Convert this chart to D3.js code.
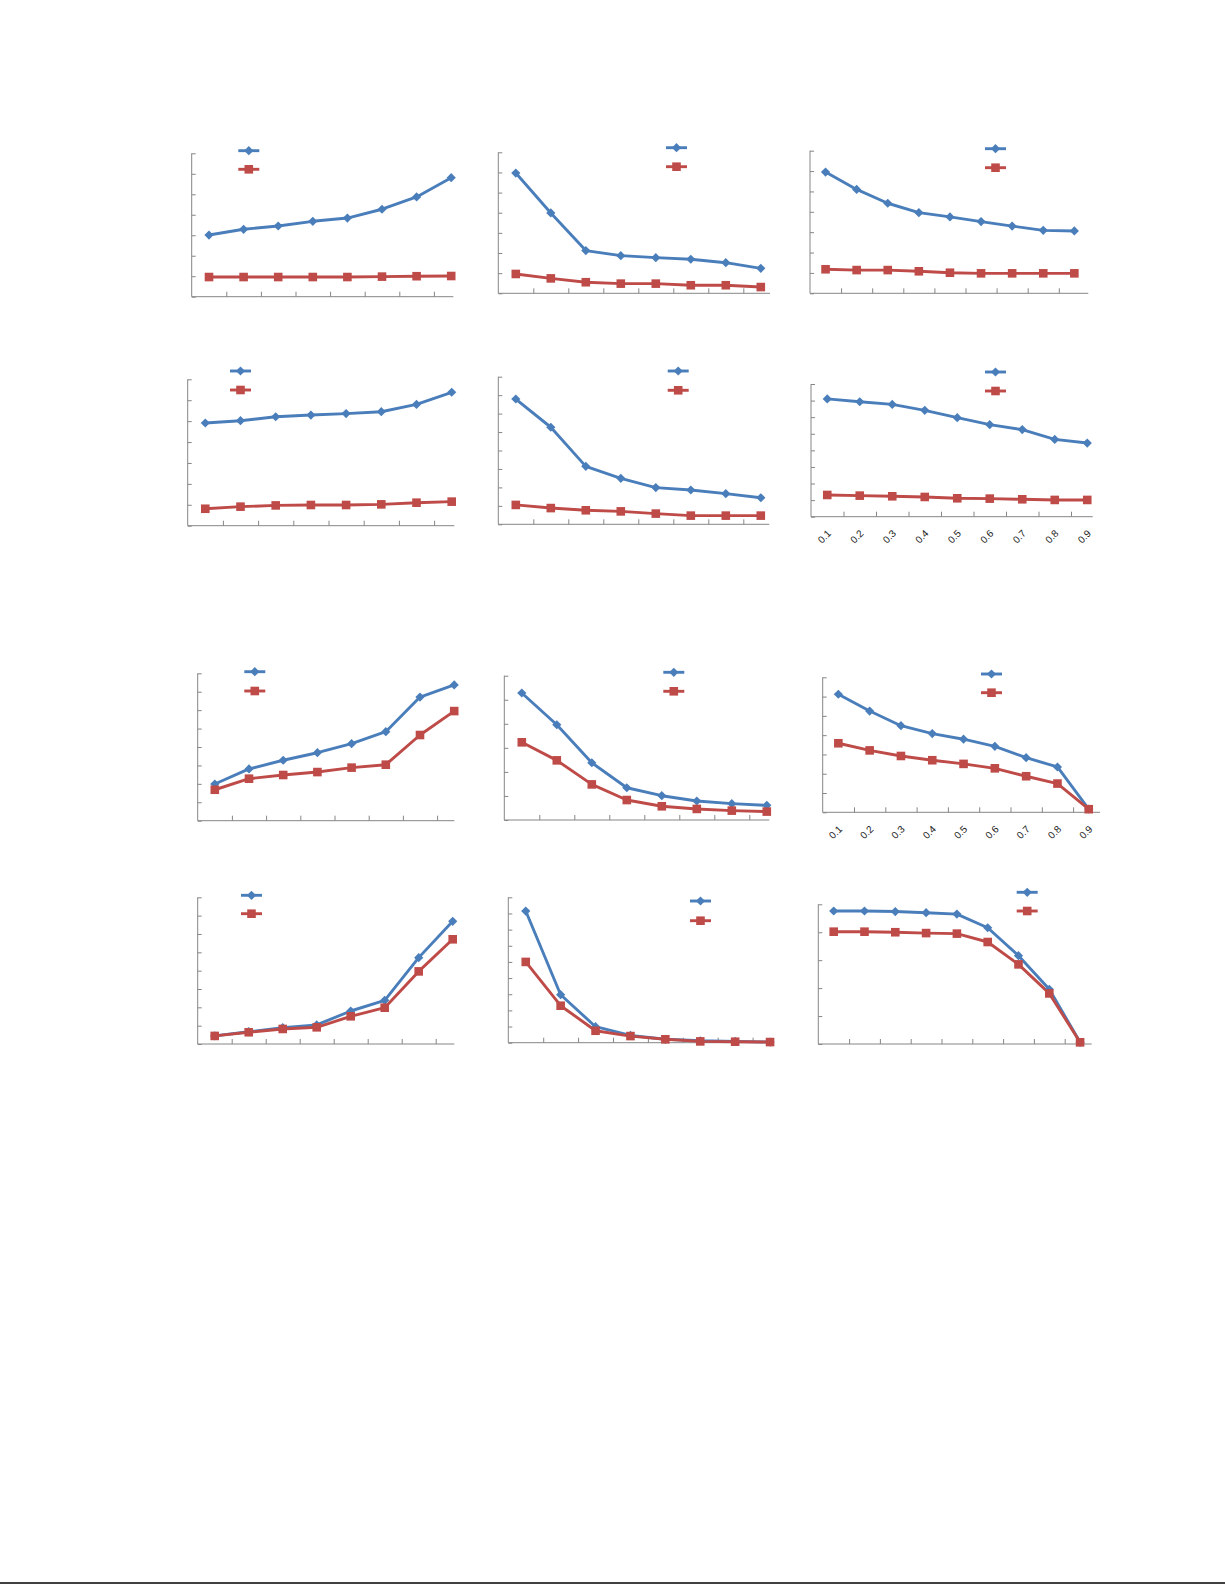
<!DOCTYPE html>
<html>
<head>
<meta charset="utf-8">
<script src="https://cdn.jsdelivr.net/npm/d3@7"></script>
<style>
  html, body { margin: 0; padding: 0; background: #ffffff; }
  svg { display: block; }
</style>
</head>
<body>
<svg id="chart" width="1225" height="1585"></svg>
<script>
// ---------- DATA (units = y-axis tick intervals) ----------
const xLabels = ["0.1", "0.2", "0.3", "0.4", "0.5", "0.6", "0.7", "0.8", "0.9"];

const blue1 = [3.01, 3.29, 3.45, 3.68, 3.84, 4.27, 4.87, 5.81];
const red1  = [0.96, 0.96, 0.96, 0.96, 0.96, 0.98, 1.00, 1.01];

const blue2 = [5.97, 3.99, 2.12, 1.87, 1.77, 1.69, 1.52, 1.24];
const red2  = [0.96, 0.74, 0.55, 0.48, 0.48, 0.40, 0.40, 0.31];

const blue3 = [5.95, 5.10, 4.42, 3.96, 3.75, 3.52, 3.30, 3.09, 3.06];
const red3  = [1.18, 1.14, 1.14, 1.08, 1.01, 0.98, 0.98, 0.98, 0.98];

const blue4 = [4.91, 5.02, 5.21, 5.29, 5.36, 5.45, 5.80, 6.38];
const red4  = [0.81, 0.91, 0.97, 0.99, 0.99, 1.02, 1.10, 1.15];

const blue5 = [6.79, 5.26, 3.14, 2.49, 1.99, 1.86, 1.66, 1.44];
const red5  = [1.05, 0.88, 0.76, 0.70, 0.58, 0.47, 0.47, 0.47];

const blue6 = [7.10, 6.93, 6.77, 6.41, 5.97, 5.55, 5.25, 4.66, 4.44];
const red6  = [1.31, 1.27, 1.23, 1.19, 1.11, 1.09, 1.05, 1.01, 1.01];

const blue7 = [1.99, 2.81, 3.28, 3.69, 4.18, 4.83, 6.71, 7.37];
const red7  = [1.68, 2.28, 2.48, 2.64, 2.88, 3.04, 4.65, 5.95];

const blue8 = [5.28, 3.96, 2.38, 1.34, 1.01, 0.79, 0.68, 0.61];
const red8  = [3.23, 2.48, 1.48, 0.83, 0.57, 0.46, 0.39, 0.35];

const blue9 = [6.12, 5.25, 4.49, 4.08, 3.79, 3.42, 2.83, 2.35, 0.17];
const red9  = [3.58, 3.21, 2.92, 2.70, 2.51, 2.28, 1.87, 1.49, 0.16];

const blue10 = [0.44, 0.67, 0.89, 1.04, 1.80, 2.38, 4.71, 6.69];
const red10  = [0.44, 0.64, 0.82, 0.91, 1.51, 1.98, 3.96, 5.71];

const blue11 = [8.15, 2.97, 0.99, 0.45, 0.21, 0.12, 0.08, 0.04];
const red11  = [5.00, 2.29, 0.74, 0.41, 0.21, 0.08, 0.06, 0.04];

const blue12 = [4.76, 4.76, 4.74, 4.70, 4.65, 4.16, 3.16, 1.96, 0.06];
const red12  = [4.02, 4.02, 4.00, 3.97, 3.95, 3.65, 2.85, 1.81, 0.06];

// y-axis interval counts per panel
const yIntervals = [7, 7, 7, 7, 8, 8, 8, 6, 7, 8, 9, 5];
// which panels show the rotated category labels
const showLabels = [false, false, false, false, false, true, false, false, true, false, false, false];

// ---------- LAYOUT (pixel positions only) ----------
const layout = [
  {x0: 191.7, top: 153.3, bottom: 296.7, bw: 34.6, xEnd: 453.3, lx: 238.3, lyB: 150.7, lyR: 169.3},
  {x0: 498.3, top: 152.3, bottom: 293.3, bw: 35.0, xEnd: 770.0, lx: 666.0, lyB: 147.7, lyR: 166.7},
  {x0: 810.0, top: 150.7, bottom: 293.3, bw: 31.1, xEnd: 1088.3, lx: 985.0, lyB: 148.7, lyR: 167.7},
  {x0: 187.7, top: 379.3, bottom: 525.7, bw: 35.2, xEnd: 454.3, lx: 230.0, lyB: 371.0, lyR: 390.0},
  {x0: 498.3, top: 376.7, bottom: 524.3, bw: 35.0, xEnd: 769.3, lx: 667.7, lyB: 371.0, lyR: 390.3},
  {x0: 811.0, top: 384.0, bottom: 516.7, bw: 32.5, xEnd: 1092.7, lx: 985.0, lyB: 372.0, lyR: 391.0},
  {x0: 197.7, top: 673.3, bottom: 820.7, bw: 34.2, xEnd: 454.3, lx: 244.3, lyB: 671.7, lyR: 691.0},
  {x0: 504.3, top: 675.7, bottom: 820.0, bw: 35.0, xEnd: 769.3, lx: 663.3, lyB: 672.3, lyR: 691.3},
  {x0: 822.7, top: 677.3, bottom: 812.3, bw: 31.3, xEnd: 1100.0, lx: 981.0, lyB: 674.0, lyR: 692.7},
  {x0: 197.7, top: 897.3, bottom: 1044.0, bw: 34.0, xEnd: 454.3, lx: 241.0, lyB: 895.3, lyR: 913.7},
  {x0: 508.3, top: 897.3, bottom: 1042.7, bw: 34.9, xEnd: 770.0, lx: 690.0, lyB: 901.0, lyR: 920.7},
  {x0: 818.3, top: 904.3, bottom: 1044.0, bw: 30.8, xEnd: 1091.7, lx: 1016.7, lyB: 892.3, lyR: 911.0}
];

const blueSeries = [blue1, blue2, blue3, blue4, blue5, blue6, blue7, blue8, blue9, blue10, blue11, blue12];
const redSeries  = [red1, red2, red3, red4, red5, red6, red7, red8, red9, red10, red11, red12];

// ---------- STYLE ----------
const BLUE = "#4A7EBB";
const RED = "#BE4B48";
const AXIS = "#868686";
const LINE_W = 2.9;
const DIAMOND_R = 4.6;
const SQUARE_S = 8.6;

const svg = d3.select("#chart");

const diamondPath = r => `M0,${-r}L${r},0L0,${r}L${-r},0Z`;
const squarePath = s => `M${-s/2},${-s/2}h${s}v${s}h${-s}Z`;

function drawPanel(i) {
  const L = layout[i];
  const blue = blueSeries[i];
  const red = redSeries[i];
  const n = blue.length;
  const cats = d3.range(n);
  const g = svg.append("g");

  const x = d3.scaleBand().domain(cats).range([L.x0, L.x0 + n * L.bw]).paddingInner(0).paddingOuter(0);
  const cx = d => x(d) + x.bandwidth() / 2;
  const xb = d3.scaleLinear().domain([0, n]).range([L.x0, L.x0 + n * L.bw]);
  const y = d3.scaleLinear().domain([0, yIntervals[i]]).range([L.bottom, L.top]);

  // y axis (ticks inside)
  const ya = g.append("g").attr("transform", `translate(${L.x0},0)`)
    .call(d3.axisRight(y).tickValues(d3.range(0, yIntervals[i] + 1)).tickSize(4).tickSizeOuter(0).tickFormat(""));
  ya.select(".domain").attr("stroke", AXIS).attr("d", `M0,${L.bottom}V${L.top}`);
  ya.selectAll(".tick line").attr("stroke", AXIS);

  // x axis (ticks at category boundaries, pointing up)
  const bounds = d3.range(1, n + 1).filter(v => xb(v) <= L.xEnd + 0.5);
  const xa = g.append("g").attr("transform", `translate(0,${L.bottom})`)
    .call(d3.axisTop(xb).tickValues(bounds).tickSize(5).tickSizeOuter(0).tickFormat(""));
  xa.select(".domain").attr("stroke", AXIS).attr("d", `M${L.x0},0H${L.xEnd}`);
  xa.selectAll(".tick line").attr("stroke", AXIS);

  if (showLabels[i]) {
    g.selectAll(".xl").data(cats).enter().append("text")
      .attr("transform", d => `translate(${cx(d) + 2},${L.bottom + 15}) rotate(-45)`)
      .attr("text-anchor", "end")
      .attr("dy", "0.35em")
      .attr("font-family", "Liberation Sans, Arial, sans-serif")
      .attr("font-size", 10)
      .attr("fill", "#222")
      .text(d => xLabels[d]);
  }

  const line = d3.line().x((d, k) => cx(k)).y(d => y(d));

  g.append("path").datum(blue).attr("d", line)
    .attr("fill", "none").attr("stroke", BLUE).attr("stroke-width", LINE_W).attr("stroke-linejoin", "round");
  g.append("path").datum(red).attr("d", line)
    .attr("fill", "none").attr("stroke", RED).attr("stroke-width", LINE_W).attr("stroke-linejoin", "round");

  g.selectAll(".mb").data(blue).enter().append("path")
    .attr("d", diamondPath(DIAMOND_R))
    .attr("transform", (d, k) => `translate(${cx(k)},${y(d)})`)
    .attr("fill", BLUE);
  g.selectAll(".mr").data(red).enter().append("path")
    .attr("d", squarePath(SQUARE_S))
    .attr("transform", (d, k) => `translate(${cx(k)},${y(d)})`)
    .attr("fill", RED);

  // legend
  const lg = g.append("g");
  lg.append("line").attr("x1", L.lx).attr("x2", L.lx + 21).attr("y1", L.lyB).attr("y2", L.lyB)
    .attr("stroke", BLUE).attr("stroke-width", LINE_W);
  lg.append("path").attr("d", diamondPath(DIAMOND_R)).attr("transform", `translate(${L.lx + 10.5},${L.lyB})`).attr("fill", BLUE);
  lg.append("line").attr("x1", L.lx).attr("x2", L.lx + 21).attr("y1", L.lyR).attr("y2", L.lyR)
    .attr("stroke", RED).attr("stroke-width", LINE_W);
  lg.append("path").attr("d", squarePath(SQUARE_S)).attr("transform", `translate(${L.lx + 10.5},${L.lyR})`).attr("fill", RED);
}

for (let i = 0; i < layout.length; i++) drawPanel(i);

// page bottom rule
svg.append("line").attr("x1", 0).attr("x2", 1225).attr("y1", 1583).attr("y2", 1583)
  .attr("stroke", "#000").attr("stroke-width", 1.5);
</script>
</body>
</html>
